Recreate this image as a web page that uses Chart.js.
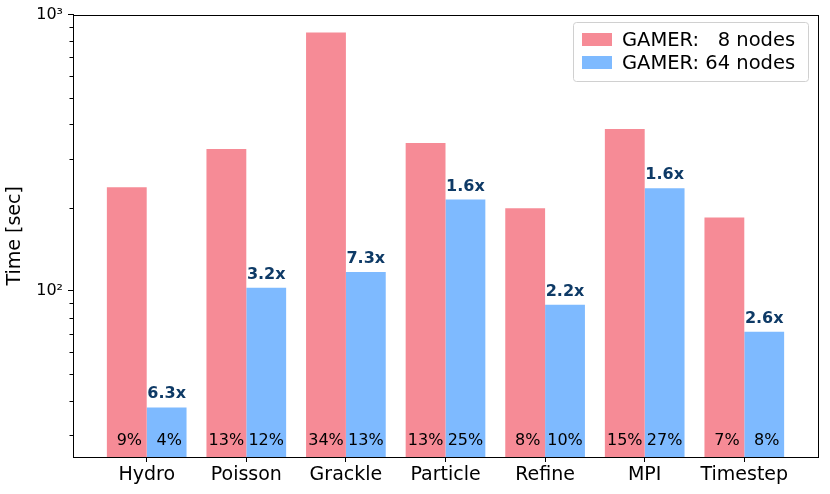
<!DOCTYPE html>
<html>
<head>
<meta charset="utf-8">
<script src="https://cdn.jsdelivr.net/npm/chart.js@4.4.1/dist/chart.umd.min.js"></script>
<style>
    html, body { margin: 0; padding: 0; background: #fff; }
    #wrap { width: 830px; height: 494px; }
</style>
</head>
<body>
<div id="wrap"><canvas id="timeChart"></canvas></div>
<script>
// Timing breakdown, 8 vs 64 nodes

const categories = ['Hydro', 'Poisson', 'Grackle', 'Particle', 'Refine', 'MPI', 'Timestep'];
const time8 = [237, 326, 861, 343, 199, 385, 184];
const time64 = [37.8, 102.5, 117, 214, 89, 235, 71.1];
const share8 = [9, 13, 34, 13, 8, 15, 7];
const share64 = [4, 12, 13, 25, 10, 27, 8];
const speedup = ['6.3x', '3.2x', '7.3x', '1.6x', '2.2x', '1.6x', '2.6x'];
const seriesLabels = ['GAMER:   8 nodes', 'GAMER: 64 nodes'];
const yMajorTicks = [100, 1000];
const yMinorTicks = [30, 40, 50, 60, 70, 80, 90, 200, 300, 400, 500, 600, 700, 800, 900];

const FONT = "'DejaVu Sans', sans-serif";
const RED = 'rgb(246, 139, 150)';
const BLUE = 'rgb(126, 186, 255)';
const NAVY = '#0e3a66';

const toPoints = arr => arr.map((v, i) => ({ x: i, y: v }));

const labelsPlugin = {
    id: 'barLabels',
    afterDatasetsDraw: function(chart) {
        const ctx = chart.ctx;
        const area = chart.chartArea;
        const m8 = chart.getDatasetMeta(0).data;
        const m64 = chart.getDatasetMeta(1).data;
        ctx.save();
        ctx.textAlign = 'center';
        ctx.textBaseline = 'alphabetic';
        ctx.fillStyle = '#000';
        ctx.font = '16px ' + FONT;
        for (let i = 0; i < categories.length; i++) {
            ctx.fillText(String(share8[i]).padStart(2, ' ') + '%', m8[i].x, area.bottom - 12);
            ctx.fillText(String(share64[i]).padStart(2, ' ') + '%', m64[i].x, area.bottom - 12);
        }
        ctx.fillStyle = NAVY;
        ctx.font = 'bold 16px ' + FONT;
        for (let i = 0; i < categories.length; i++) {
            ctx.fillText(speedup[i], m64[i].x, m64[i].y - 9);
        }
        ctx.restore();
    },
    afterDraw: function(chart) {
        const ctx = chart.ctx;
        const area = chart.chartArea;
        const yScale = chart.scales.y;
        ctx.save();
        // frame
        ctx.strokeStyle = '#000';
        ctx.lineWidth = 1;
        ctx.strokeRect(Math.round(area.left) + 0.5, Math.round(area.top) + 0.5,
            Math.round(area.right - area.left), Math.round(area.bottom - area.top));
        // minor ticks
        yMinorTicks.forEach(v => {
            const py = Math.round(yScale.getPixelForValue(v)) + 0.5;
            ctx.beginPath();
            ctx.moveTo(area.left, py);
            ctx.lineTo(area.left - 3.5, py);
            ctx.stroke();
        });
        // legend
        const bx = 573.5, by = 22.5, bw = 235, bh = 59;
        ctx.beginPath();
        ctx.roundRect(bx, by, bw, bh, 3);
        ctx.fillStyle = 'rgba(255,255,255,0.8)';
        ctx.fill();
        ctx.strokeStyle = '#d0d0d0';
        ctx.stroke();
        const colors = [RED, BLUE];
        ctx.font = '19.5px ' + FONT;
        ctx.textBaseline = 'alphabetic';
        ctx.textAlign = 'left';
        for (let k = 0; k < 2; k++) {
            const rowY = 33 + k * 23;
            ctx.fillStyle = colors[k];
            ctx.fillRect(582, rowY, 30, 13);
            ctx.fillStyle = '#000';
            ctx.fillText(seriesLabels[k], 622, rowY + 13);
        }
        ctx.restore();
    }
};

const ctx = document.getElementById('timeChart').getContext('2d');
new Chart(ctx, {
    type: 'bar',
    data: {
        datasets: [{
            label: seriesLabels[0],
            data: toPoints(time8),
            backgroundColor: RED,
            borderWidth: 0
        }, {
            label: seriesLabels[1],
            data: toPoints(time64),
            backgroundColor: BLUE,
            borderWidth: 0
        }]
    },
    options: {
        responsive: true,
        maintainAspectRatio: false,
        animation: false,
        layout: { padding: { top: 13, right: 12, bottom: 0, left: 0 } },
        categoryPercentage: 0.8,
        barPercentage: 1.0,
        plugins: {
            legend: { display: false },
            tooltip: { enabled: false }
        },
        scales: {
            x: {
                type: 'linear',
                min: -0.74,
                max: 6.74,
                offset: false,
                afterBuildTicks: scale => {
                    scale.ticks = categories.map((c, i) => ({ value: i }));
                },
                afterFit: scale => { scale.height = 37; },
                grid: {
                    offset: false,
                    drawOnChartArea: false,
                    tickLength: 5,
                    color: '#000'
                },
                border: { display: true, color: '#000' },
                ticks: {
                    autoSkip: false,
                    maxRotation: 0,
                    padding: 2,
                    color: '#000',
                    font: { family: FONT, size: 19 },
                    callback: v => categories[v]
                }
            },
            y: {
                type: 'logarithmic',
                min: 25,
                max: 1000,
                afterBuildTicks: scale => {
                    scale.ticks = yMajorTicks.map(v => ({ value: v }));
                },
                afterFit: scale => { scale.width = 73; },
                grid: {
                    drawOnChartArea: false,
                    tickLength: 5,
                    color: '#000'
                },
                border: { display: true, color: '#000' },
                ticks: {
                    padding: 5,
                    color: '#000',
                    font: { family: FONT, size: 16 },
                    callback: v => (v === 100 ? '10²' : v === 1000 ? '10³' : '')
                },
                title: {
                    display: true,
                    text: 'Time [sec]',
                    color: '#000',
                    font: { family: FONT, size: 19 },
                    padding: { top: 4, bottom: 0 }
                }
            }
        }
    },
    plugins: [labelsPlugin]
});
</script>
</body>
</html>
